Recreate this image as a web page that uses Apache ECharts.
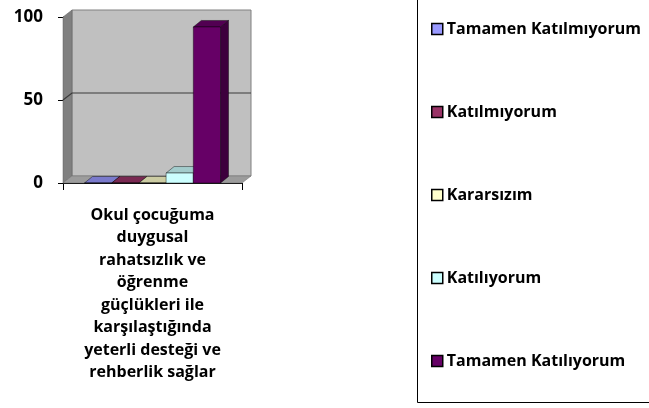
<!DOCTYPE html>
<html>
<head>
<meta charset="utf-8">
<style>
  html, body { margin: 0; padding: 0; background: #fff; }
  #chart { width: 649px; height: 408px; }
</style>
<script src="https://cdn.jsdelivr.net/npm/echarts@6/dist/echarts.min.js"></script>
</head>
<body>
<div id="chart"></div>
<script>
// kategori (tek soru)
const categories = ['Okul çocuğuma\nduygusal\nrahatsızlık ve\nöğrenme\ngüçlükleri ile\nkarşılaştığında\nyeterli desteği ve\nrehberlik sağlar']
const seriesNames = ['Tamamen Katılmıyorum', 'Katılmıyorum', 'Kararsızım', 'Katılıyorum', 'Tamamen Katılıyorum']
const seriesValues = [0, 0, 0, 6, 94]
const seriesColors = ['#9999ff', '#993366', '#ffffcc', '#ccffff', '#660066']
const yTicks = [0, 50, 100]

const FONT = 'Open Sans'
const DX = 9   // derinlik (3B kaydırma)
const DY = -7

function shade (hex, f) {
  const n = parseInt(hex.slice(1), 16)
  const r = Math.round(((n >> 16) & 255) * f)
  const g = Math.round(((n >> 8) & 255) * f)
  const b = Math.round((n & 255) * f)
  return 'rgb(' + r + ',' + g + ',' + b + ')'
}

// arka duvar, yan duvar, zemin ve ızgara çizgileri
function renderWalls (params, api) {
  const c0 = api.coord([0, yTicks[0]])
  const band = api.size([1, 0])[0]
  const xl = c0[0] - band / 2
  const xr = c0[0] + band / 2
  const yb = c0[1]
  const yt = api.coord([0, yTicks[yTicks.length - 1]])[1]
  const children = [
    { type: 'rect', shape: { x: xl + DX, y: yt + DY, width: band, height: yb - yt },
      style: { fill: '#c0c0c0', stroke: '#808080', lineWidth: 1 } },
    { type: 'polygon', shape: { points: [[xl, yt], [xl + DX, yt + DY], [xl + DX, yb + DY], [xl, yb]] },
      style: { fill: '#808080', stroke: '#606060', lineWidth: 0.5 } },
    { type: 'polygon', shape: { points: [[xl, yb], [xr, yb], [xr + DX, yb + DY], [xl + DX, yb + DY]] },
      style: { fill: '#9c9c9c', stroke: '#707070', lineWidth: 0.5 } }
  ]
  yTicks.slice(1, -1).forEach(t => {
    const y = api.coord([0, t])[1]
    children.push({ type: 'polyline', shape: { points: [[xl, y], [xl + DX, y + DY], [xr + DX, y + DY]] },
      style: { fill: null, stroke: '#3a3a3a', lineWidth: 1.2 } })
  })
  return { type: 'group', children: children }
}

function renderBar (params, api) {
  const i = params.seriesIndex - 1
  const color = seriesColors[i]
  const cx = api.coord([api.value(0), 0])[0]
  const band = api.size([1, 0])[0]
  const bw = band * 0.152
  const x0 = cx - 2.5 * bw + i * bw
  const y0 = api.coord([api.value(0), 0])[1]
  const y1 = api.coord([api.value(0), api.value(1)])[1]
  const dx = 8
  const dy = -6.5
  const edge = { stroke: 'rgba(0,0,0,0.7)', lineWidth: 0.6 }
  return {
    type: 'group',
    children: [
      { type: 'polygon', shape: { points: [[x0 + bw, y1], [x0 + bw + dx, y1 + dy], [x0 + bw + dx, y0 + dy], [x0 + bw, y0]] },
        style: Object.assign({ fill: shade(color, 0.6) }, edge) },
      { type: 'polygon', shape: { points: [[x0, y1], [x0 + bw, y1], [x0 + bw + dx, y1 + dy], [x0 + dx, y1 + dy]] },
        style: Object.assign({ fill: shade(color, 0.8) }, edge) },
      { type: 'rect', shape: { x: x0, y: y1, width: bw, height: y0 - y1 },
        style: Object.assign({ fill: color }, edge) }
    ]
  }
}

const series = [{
  type: 'custom',
  name: 'walls',
  silent: true,
  z: 1,
  renderItem: renderWalls,
  data: [[0, 0]]
}].concat(seriesNames.map((name, i) => ({
  type: 'custom',
  name: name,
  z: 2,
  itemStyle: { color: seriesColors[i] },
  renderItem: renderBar,
  encode: { x: 0, y: 1 },
  data: [[0, seriesValues[i]]]
})))

const chart = echarts.init(document.getElementById('chart'))
chart.setOption({
  animation: false,
  backgroundColor: '#fff',
  grid: { left: 63, top: 17, right: 407, bottom: 225 },
  xAxis: {
    type: 'category',
    data: categories,
    axisLine: { show: true, lineStyle: { color: '#000', width: 1 } },
    axisTick: { show: true, length: 7, lineStyle: { color: '#000' } },
    axisLabel: {
      margin: 21,
      interval: 0,
      color: '#000',
      fontFamily: FONT,
      fontWeight: 'bold',
      fontSize: 16,
      lineHeight: 22.5,
      align: 'center'
    },
    splitLine: { show: false }
  },
  yAxis: {
    type: 'value',
    min: 0,
    max: 100,
    interval: 50,
    axisLine: { show: true, lineStyle: { color: '#000', width: 1 } },
    axisTick: { show: true, length: 5, lineStyle: { color: '#000' } },
    axisLabel: { margin: 20, color: '#000', fontFamily: FONT, fontWeight: 'bold', fontSize: 17 },
    splitLine: { show: false }
  },
  legend: {
    data: seriesNames,
    orient: 'vertical',
    left: 426,
    top: 16,
    icon: 'rect',
    itemWidth: 11,
    itemHeight: 11,
    itemGap: 67,
    itemStyle: { borderColor: '#000', borderWidth: 1.5 },
    selectedMode: false,
    textStyle: { color: '#000', fontFamily: FONT, fontWeight: 'bold', fontSize: 16, padding: [0, 0, 0, -1] }
  },
  graphic: [{
    type: 'rect',
    left: 415,
    top: -5,
    shape: { width: 300, height: 405 },
    style: { fill: null, stroke: '#000', lineWidth: 1 },
    silent: true
  }],
  series: series
})
</script>
</body>
</html>
